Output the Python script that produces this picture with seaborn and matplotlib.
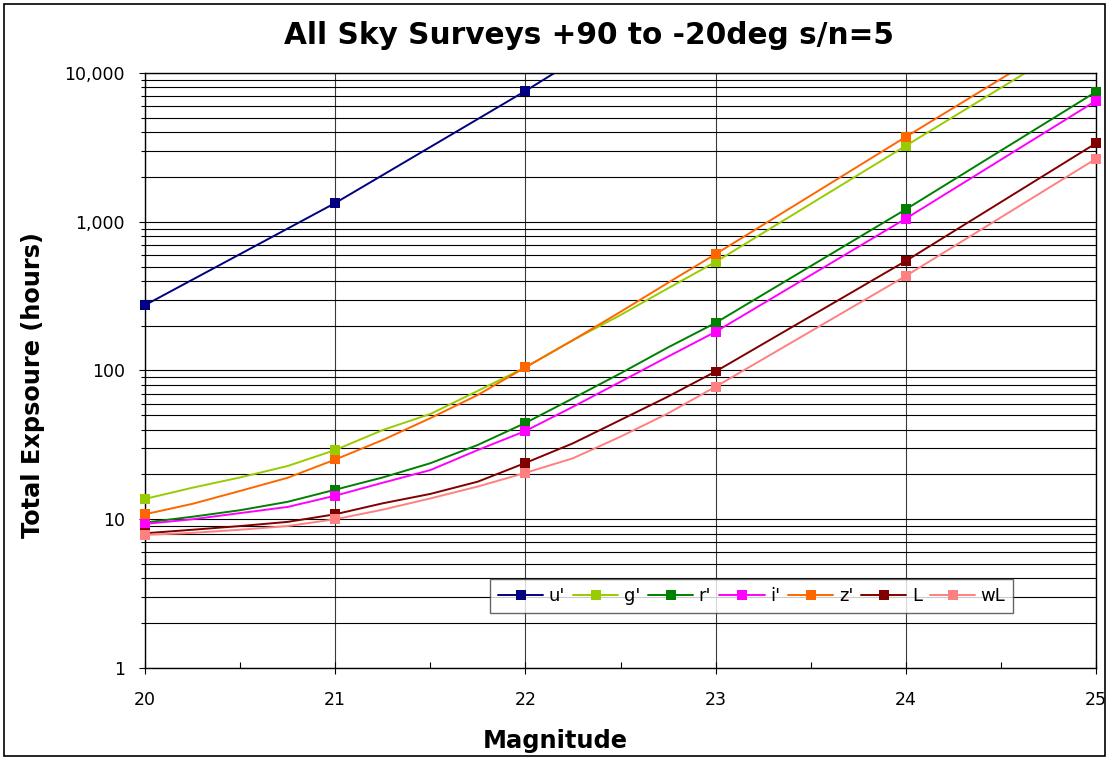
import numpy as np
import pandas as pd
import matplotlib
matplotlib.use("Agg")
import matplotlib.pyplot as plt
import matplotlib.ticker as mticker
from matplotlib.patches import Rectangle
from matplotlib.lines import Line2D
import seaborn as sns

# ---------------- data ----------------
series_names = ["u'", "g'", "r'", "i'", "z'", "L", "wL"]
series_colors = ["#000080", "#99CC00", "#008000", "#FF00FF", "#FF6600", "#800000", "#FF8080"]

mag_u = [20, 21, 22, 23]
hours_u = [275, 1336, 7570, 47000]

mag_q = [20, 20.25, 20.5, 20.75, 21, 21.25, 21.5, 21.75, 22, 22.25, 22.5, 22.75, 23, 24, 25]
hours_g = [13.7, 16.3, 19.1, 22.8, 29.2, 39.8, 51, 73, 105, 160, 236, 357, 537, 3240, 19500]
hours_z = [10.8, 12.7, 15.5, 19.0, 25.2, 34.1, 47.8, 68.5, 105, 160, 248, 389, 606, 3720, 22400]
hours_r = [9.5, 10.4, 11.5, 13.1, 15.8, 19.1, 23.8, 31.6, 44.4, 65, 95.7, 143, 209, 1212, 7470]
hours_i = [9.3, 10.0, 11.0, 12.1, 14.4, 17.6, 21.4, 29.2, 39.2, 57, 84, 124, 182, 1050, 6500]
hours_L = [8.05, 8.5, 9.0, 9.6, 10.8, 12.8, 14.8, 17.9, 23.9, 32.4, 46.5, 66.8, 98.5, 545, 3370]
hours_wL = [7.85, 8.1, 8.5, 9.0, 10.0, 11.6, 13.8, 16.6, 20.5, 25.7, 35.9, 51.5, 77.8, 432, 2650]

x_ticks = [20, 21, 22, 23, 24, 25]
y_ticks = [1, 10, 100, 1000, 10000]

title = "All Sky Surveys +90 to -20deg s/n=5"
x_label = "Magnitude"
y_label = "Total Expsoure (hours)"

# ---------------- build tables ----------------
rows = []
for name, mags, hrs in [("u'", mag_u, hours_u), ("g'", mag_q, hours_g), ("r'", mag_q, hours_r),
                        ("i'", mag_q, hours_i), ("z'", mag_q, hours_z), ("L", mag_q, hours_L),
                        ("wL", mag_q, hours_wL)]:
    for m, h in zip(mags, hrs):
        rows.append({"series": name, "mag": m, "hours": h})
df = pd.DataFrame(rows)
df["order"] = df["series"].map({n: i for i, n in enumerate(series_names)})
df = df.sort_values(["order", "mag"]).reset_index(drop=True)
df_mark = df[(df["mag"] % 1 == 0) & (df["hours"] <= 10000)]
palette = dict(zip(series_names, series_colors))

# ---------------- plot ----------------
sns.set_style("ticks")
plt.rcParams["font.family"] = ["DejaVu Sans"]
plt.rcParams["text.color"] = "black"
plt.rcParams["axes.labelcolor"] = "black"
plt.rcParams["xtick.color"] = "black"
plt.rcParams["ytick.color"] = "black"

fig = plt.figure(figsize=(11.14, 7.60), dpi=100)
ax = fig.add_axes([145 / 1114, 1 - 668 / 760, (1096 - 145) / 1114, (668 - 73) / 760])

ax.set_yscale("log")
ax.set_xlim(20, 25)
ax.set_ylim(1, 10000)

# grid
ax.yaxis.set_major_locator(mticker.FixedLocator(y_ticks))
ax.yaxis.set_minor_locator(mticker.LogLocator(base=10, subs=np.arange(2, 10)))
ax.yaxis.set_minor_formatter(mticker.NullFormatter())
ax.yaxis.set_major_formatter(mticker.FuncFormatter(lambda v, p: f"{v:,.0f}"))
ax.xaxis.set_major_locator(mticker.FixedLocator(x_ticks))
ax.xaxis.set_minor_locator(mticker.MultipleLocator(0.5))
ax.grid(which="both", axis="y", color="black", linewidth=0.8, zorder=0)
ax.grid(which="major", axis="x", color="#3a3a3a", linewidth=0.8, zorder=0)
ax.set_axisbelow(True)

for name in series_names:
    sub = df[df["series"] == name]
    sns.lineplot(data=sub, x="mag", y="hours", color=palette[name], estimator=None,
                 sort=False, linewidth=1.4, ax=ax, legend=False, zorder=2)

sns.scatterplot(data=df_mark, x="mag", y="hours", hue="series", palette=palette,
                hue_order=series_names, marker="s", s=50, linewidth=0, legend=False,
                ax=ax, zorder=3, clip_on=False)

for sp in ax.spines.values():
    sp.set_color("black")
    sp.set_linewidth(1.0)

ax.tick_params(axis="y", which="major", direction="out", length=4, width=0.8,
               labelsize=12.5, pad=10.5)
ax.tick_params(axis="y", which="minor", direction="out", length=3, width=0.8)
ax.tick_params(axis="x", which="major", direction="inout", length=9, width=0.8,
               labelsize=12.5, pad=12)
ax.tick_params(axis="x", which="minor", direction="in", length=4, width=0.8)
ax.set_xlabel("")
ax.set_ylabel("")

# legend
handles = [Line2D([0], [0], color=c, lw=1.4, marker="s", markersize=7.5, markeredgewidth=0)
           for c in series_colors]
leg = ax.legend(handles, series_names, loc="center", bbox_to_anchor=(0.638, 0.121),
                ncol=7, frameon=True, fancybox=False, fontsize=13, handlelength=2.5,
                columnspacing=0.45, handletextpad=0.3, borderpad=0.45, borderaxespad=0)
leg.get_frame().set_edgecolor("#404040")
leg.get_frame().set_linewidth(1.0)
leg.set_zorder(5)

# texts
fig.text(589 / 1114, 1 - 35 / 760, title, ha="center", va="center",
         fontsize=21.3, fontweight="bold")
fig.text(555 / 1114, 1 - 741 / 760, x_label, ha="center", va="center",
         fontsize=17.4, fontweight="bold")
fig.text(33 / 1114, 1 - 385 / 760, y_label, ha="center", va="center", rotation=90,
         fontsize=17.3, fontweight="bold")

fig.patches.append(Rectangle((0.004, 0.005), 0.988, 0.99, transform=fig.transFigure,
                             fill=False, edgecolor="black", linewidth=1.2))

fig.savefig("out.png", dpi=100)
